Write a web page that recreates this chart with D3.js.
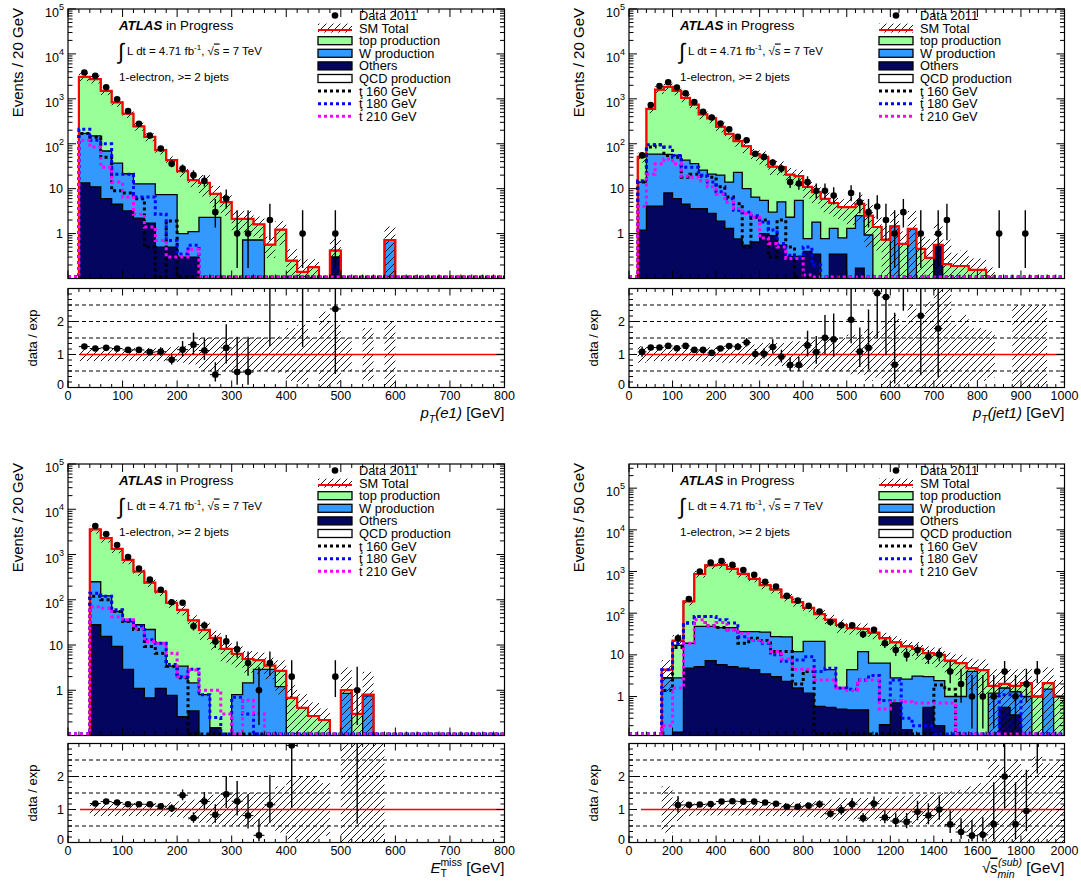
<!DOCTYPE html>
<html>
<head>
<meta charset="utf-8">
<script src="https://cdnjs.cloudflare.com/ajax/libs/d3/7.8.5/d3.min.js"></script>
<style>
html,body{margin:0;padding:0;background:#fff;}
svg{display:block;}
text{font-family:"Liberation Sans",Arial,Helvetica,sans-serif;fill:#000;}
</style>
</head>
<body>
<svg id="chart" width="1081" height="881"></svg>
<script>
// ================= DATA =================
const legendLabels = ["Data 2011","SM Total","top production","W production","Others","QCD production","ţ 160 GeV","ţ 180 GeV","t 210 GeV"];

// ---- pT(e1): bins of 20 GeV starting at 20 GeV ----
const ptE_start = 20, ptE_width = 20;
const ptE_others = [13.4, 11, 6, 4.5, 3.2, 2.2, 1.7, 0.5, 0.5, 0.3, 0.3, 0, 0, 0, 0, 0, 0, 0, 0, 0, 0, 0, 0, 0.3, 0, 0, 0, 0, 0];
const ptE_W      = [156, 138, 63, 32.5, 18.3, 10.6, 11.1, 6.9, 6.9, 0.7, 0.8, 2.3, 2.3, 0, 0, 0.72, 0.72, 0, 0, 0, 0, 0, 0, 0, 0, 0, 0, 0, 0.72];
const ptE_top    = [2930, 2600, 1440, 793, 449, 232, 129, 64.6, 35.6, 23.4, 14.3, 11.1, 5.4, 5.0, 2.14, 1.42, 0.88, 0.57, 1.22, 0.25, 0.14, 0.18, 0, 0.12, 0, 0, 0, 0, 0];
const ptE_data   = [3844, 3245, 1812, 979, 536, 279, 152, 78, 36, 28, 20, 15, 3, 6, 1, 1, 0, 2, 0, 0, 1, 0, 0, 1, 0, 0, 0, 0, 0];
const ptE_unc    = [0.2,0.2,0.2,0.2,0.2,0.2,0.2,0.2,0.22,0.25,0.3,0.5,0.5,0.5,0.5,0.5,0.5,0.5,0.55,0.8,0.9,0.5,1.3,0.9,0.5,0,0.8,0,1.0];
const ptE_t160   = [170, 140, 50, 9, 8, 6, 0.5, 0, 1.9];
const ptE_t180   = [210, 120, 100, 21, 21, 6.5, 6.5, 2.7, 0.7, 0.35, 0.55];
const ptE_t210   = [120, 85, 30, 14, 6.5, 2.7, 1.4, 0.7, 0.3, 0.3, 0.45];

// ---- pT(jet1): bins of 20 GeV starting at 20 GeV ----
const ptJ_start = 20, ptJ_width = 20;
const ptJ_others = [1.2, 4.1, 4.1, 8, 6, 4.5, 3.6, 3.6, 2.8, 1.9, 1.3, 0.76, 0.55, 0.65, 1.0, 0.9, 0.55, 0.31, 0.31, 0.4, 0.35, 0.1, 0.35, 0.35, 0, 0.17, 0, 0, 0, 0, 0, 0, 0, 0, 0.56];
const ptJ_W      = [12.8, 54.9, 54.9, 50, 50, 38.5, 32.4, 22.4, 18.2, 18.1, 12.7, 22.2, 9.45, 5.85, 4.5, 2.1, 4.55, 2.0, 5.2, 0.37, 1.45, 0.67, 0.95, 0.45, 1.3, 2.33, 0.93, 0, 0, 1.45, 0, 1.28];
const ptJ_top    = [37, 541, 1541, 1792, 1444, 1007, 709, 424, 346, 219, 153, 92, 78, 52.5, 44.5, 28, 24.9, 18.3, 13.5, 10.2, 6.6, 5.2, 3.5, 3.1, 2.6, 2.1, 1.57, 1.4, 0.73, 0, 0.59, 0, 0.46, 0.29, 0, 0.21, 0.19, 0.19, 0.155, 0.155, 0.104];
const ptJ_data   = [55, 726, 1936, 2331, 1785, 1323, 849, 513, 385, 282, 210, 142, 120, 60, 51, 38, 28, 14, 13, 14, 9, 9, 7, 0, 8, 5, 3, 4, 2, 1, 3, 0, 1, 0, 1, 2, 0, 0, 0, 0, 0, 1, 0, 0, 1, 0, 0];
const ptJ_unc    = [0.25,0.2,0.2,0.2,0.2,0.2,0.2,0.22,0.22,0.25,0.25,0.25,0.3,0.3,0.35,0.35,0.35,0.4,0.4,0.45,0.45,0.5,0.5,0.5,0.6,0.6,0.8,0.7,1.0,1.2,0.9,1.5,1.0,1.6,2.0,2.5,0.9,1.2,0.8,0.8,0.7,0,0,1.5,1.5,1.5,1.5];
const ptJ_t160   = [14, 85, 95, 55, 50, 18, 21, 19, 18, 11, 6.5, 4.6, 0.5, 2.3, 2.0, 0.3, 2.0, 0.5];
const ptJ_t180   = [15, 95, 95, 85, 55, 30, 30, 20, 14, 8.5, 6, 3.3, 3, 2.5, 1.8, 1.2, 0.6, 0.33, 0.3, 0.5, 0.2];
const ptJ_t210   = [4, 21, 36, 46, 36, 19, 18, 15, 11, 7.5, 5, 3.6, 2.8, 2.3, 0.8, 0.6, 0.5, 0.28, 0.28, 0.12];

// ---- ETmiss: bins of 20 GeV starting at 40 GeV ----
const met_start = 40, met_width = 20;
const met_others = [28, 15.5, 9.3, 2.9, 1.1, 0.68, 1.1, 0.77, 0.26, 0.35, 0, 0.15];
const met_W      = [222, 106.5, 45.7, 30.1, 26.9, 21.3, 9.9, 2.63, 3.14, 1.1, 0.8, 0, 0, 0.8, 1.45, 2.9, 2.9, 1.2, 0, 0, 0, 0, 0, 0.85, 0, 0.75];
const met_top    = [3350, 2168, 1278, 727, 393, 218, 140, 81.6, 56.6, 33.5, 20.9, 14.15, 8.2, 5.6, 3.45, 1.7, 0.6, 1.5, 0.68, 0.41, 0.27, 0.22, 0, 0.15, 0.3, 0.05];
const met_data   = [4250, 2840, 1613, 882, 488, 278, 166, 88, 86, 26, 27, 12, 12, 8, 4, 1, 4, 0, 2, 0, 0, 0, 2, 0, 1, 0, 0];
const met_unc    = [0.2,0.2,0.2,0.2,0.2,0.2,0.2,0.22,0.25,0.3,0.4,0.45,0.5,0.5,0.5,0.5,0.5,0.7,0.9,1.0,1.0,0.8,0,2.2,2.5,2.2,2.5];
const met_t160   = [120, 100, 55, 33, 22, 9.3, 6.6, 3.4, 1.9];
const met_t180   = [140, 120, 60, 36, 26, 13, 11, 3.7, 2, 2.9, 0.8, 0.25, 0, 0.7, 0.3];
const met_t210   = [70, 65, 42, 36, 23, 12, 11, 6.6, 2.0, 2.8, 1.0, 1.0, 0.3, 0, 0.6, 0.3];

// ---- sqrt(s)_min^(sub): bins of 50 GeV starting at 150 GeV ----
const smin_start = 150, smin_width = 50;
const smin_qcd    = [1.6, 5];
const smin_others = [0, 0.14, 4.8, 5.2, 7.3, 5.8, 5.2, 4.8, 4.4, 3.5, 3.0, 2.3, 1.6, 1.2, 0.58, 0.55, 0.5, 0.48, 0.48, 0, 0.21, 0.7, 0.16, 0, 0.55, 0.2, 0, 0, 0, 0, 0, 0.55, 0.36];
const smin_W      = [2.8, 2.66, 14.2, 42.8, 40.7, 39.2, 39.8, 31.2, 31.6, 31.5, 24.5, 24.7, 10.4, 19.8, 20.4, 3.85, 1.1, 3.92, 11.5, 6.3, 6.1, 2.1, 2.44, 3.1, 2.45, 2.2, 1.0, 1.0, 4.0, 0, 1.2, 1.05, 0.94, 1.0, 0, 1.5, 0];
const smin_top    = [0, 14.2, 172, 822, 1352, 1395, 1105, 844, 634, 435, 342.5, 213, 173, 114, 74, 65.6, 50.4, 39.6, 30, 27.7, 18.7, 17.2, 13.4, 10.9, 8.0, 7.6, 6.3, 5.3, 0.8, 4.3, 0.6, 0.4, 0.5, 1.1, 1.0, 0.6, 1.0];
const smin_data   = [0, 25, 218, 1000, 1630, 1790, 1440, 1090, 830, 570, 435, 260, 200, 150, 110, 61, 51, 51, 31, 40, 19, 13, 10, 13, 9, 10, 4, 2, 1, 1, 1, 4, 1, 2, 4, 0, 0];
const smin_unc    = [0.7,0.35,0.2,0.18,0.18,0.18,0.18,0.18,0.18,0.2,0.2,0.2,0.22,0.22,0.25,0.3,0.35,0.3,0.35,0.3,0.35,0.4,0.4,0.45,0.45,0.5,0.55,0.6,0.7,0.8,1.5,1.3,1.5,1.2,1.6,1.4,1.5];
const smin_t160   = [1.4, 15, 58, 83, 50, 45, 40, 19, 25, 22, 12, 12, 2, 4, 0, 0, 0, 0, 0, 0, 0, 0, 0, 0, 0, 1.9, 1.5];
const smin_t180   = [4.4, 19, 58, 83, 83, 70, 58, 27, 22, 19, 10, 7, 7.5, 9, 4, 4.8, 1.6, 1.5, 2.5, 3.2, 0.8, 2.5, 0.3, 0.2, 0.2, 0, 0, 0, 0, 0, 0, 1.1, 1.1];
const smin_t210   = [0.2, 1.6, 19, 70, 50, 60, 40, 33, 22, 20, 12, 8, 4.5, 4.5, 2.5, 2.5, 1.6, 1.4, 2.5, 2.5, 0.5, 0.8, 0.75, 0.7, 0.7, 0.7, 0.7];

// ================= STYLE / LAYOUT =================
const C_TOP = '#99ff99', C_W = '#3399ff', C_OTH = '#03055f', C_RED = '#ff0000';
const SIG_COLORS = ['#000000', '#0000ff', '#ff00ff'];

const layout = [
  {x0:68,  x1:504.5,  yT:9,   yB:278.5, rT:288.5, rB:387.5},
  {x0:629, x1:1064.5, yT:9,   yB:278.5, rT:288.5, rB:387.5},
  {x0:68,  x1:504.5,  yT:464, yB:735.5, rT:743.5, rB:842.5},
  {x0:629, x1:1064.5, yT:464, yB:735.5, rT:743.5, rB:842.5}
];

const panels = [
  {id:'a', box:layout[0], start:ptE_start, width:ptE_width, others:ptE_others, W:ptE_W, top:ptE_top, qcd:null, data:ptE_data, unc:ptE_unc, sig:[ptE_t160,ptE_t180,ptE_t210], xmax:800, xMajor:100, xMinor:20, yDom:[0.1,1e5], yTitle:'Events / 20 GeV', xTitle:'pte'},
  {id:'b', box:layout[1], start:ptJ_start, width:ptJ_width, others:ptJ_others, W:ptJ_W, top:ptJ_top, qcd:null, data:ptJ_data, unc:ptJ_unc, sig:[ptJ_t160,ptJ_t180,ptJ_t210], xmax:1000, xMajor:100, xMinor:20, yDom:[0.1,1e5], yTitle:'Events / 20 GeV', xTitle:'ptj'},
  {id:'c', box:layout[2], start:met_start, width:met_width, others:met_others, W:met_W, top:met_top, qcd:null, data:met_data, unc:met_unc, sig:[met_t160,met_t180,met_t210], xmax:800, xMajor:100, xMinor:20, yDom:[0.1,1e5], yTitle:'Events / 20 GeV', xTitle:'met'},
  {id:'d', box:layout[3], start:smin_start, width:smin_width, others:smin_others, W:smin_W, top:smin_top, qcd:smin_qcd, data:smin_data, unc:smin_unc, sig:[smin_t160,smin_t180,smin_t210], xmax:2000, xMajor:200, xMinor:40, yDom:[0.116,3.8e5], yTitle:'Events / 50 GeV', xTitle:'smin'}
];

// ================= DRAWING =================
const svg = d3.select('#chart');
svg.append('rect').attr('width',1081).attr('height',881).attr('fill','#fff');
const defs = svg.append('defs');
const hs = 7;
defs.append('pattern').attr('id','hatch').attr('patternUnits','userSpaceOnUse')
  .attr('width',hs).attr('height',hs)
  .append('path')
  .attr('d',`M0,${hs} L${hs},0 M${-hs/2},${hs/2} L${hs/2},${-hs/2} M${hs/2},${hs*1.5} L${hs*1.5},${hs/2}`)
  .attr('stroke','#000').attr('stroke-width',0.9).attr('fill','none');

function garwood(N){
  const lo = N <= 0 ? 0 : N*Math.pow(1 - 1/(9*N) - 1/(3*Math.sqrt(N)), 3);
  const hi = (N+1)*Math.pow(1 - 1/(9*(N+1)) + 1/(3*Math.sqrt(N+1)), 3);
  return [lo, hi];
}

function line(g, x1, y1, x2, y2, stroke, w, dash){
  const l = g.append('line').attr('x1',x1).attr('y1',y1).attr('x2',x2).attr('y2',y2)
    .attr('stroke',stroke||'#000').attr('stroke-width',w||1);
  if (dash) l.attr('stroke-dasharray',dash);
  return l;
}

function drawPanel(P){
  const b = P.box;
  const g = svg.append('g');
  const x = d3.scaleLinear().domain([0,P.xmax]).range([b.x0,b.x1]);
  const y = d3.scaleLog().domain(P.yDom).range([b.yB,b.yT]);
  const yr = d3.scaleLinear().domain([0,3]).range([b.rB,b.rT]);
  const nb = Math.round((P.xmax - P.start)/P.width);
  const n = Math.max(P.top.length, P.W.length, P.others.length, P.data.length, P.unc.length);
  const v = (a,i) => (a && a[i] != null) ? a[i] : 0;
  const lo = i => P.start + i*P.width;
  const idx = d3.range(n);
  const c1 = idx.map(i => v(P.others,i));
  const c2 = idx.map(i => c1[i] + v(P.W,i));
  const c3 = idx.map(i => c2[i] + v(P.top,i));
  const c4 = idx.map(i => c3[i] + v(P.qcd,i));
  const ymin = P.yDom[0];
  const yBelow = b.yB + 4;
  const yOf = val => val > ymin ? y(val) : yBelow;
  const step = vals => {
    let d = `M${x(lo(0))},${yBelow}`;
    vals.forEach((val,i) => { const yy = yOf(val); d += `L${x(lo(i))},${yy}L${x(lo(i+1))},${yy}`; });
    d += `L${x(lo(vals.length))},${yBelow}`;
    return d;
  };

  // clip paths
  defs.append('clipPath').attr('id','cm'+P.id).append('rect')
    .attr('x',b.x0).attr('y',b.yT).attr('width',b.x1-b.x0).attr('height',b.yB-b.yT);
  defs.append('clipPath').attr('id','cr'+P.id).append('rect')
    .attr('x',b.x0).attr('y',b.rT).attr('width',b.x1-b.x0).attr('height',b.rB-b.rT);

  // ---------- main pad ----------
  const gm = g.append('g').attr('clip-path',`url(#cm${P.id})`);
  const layers = [];
  if (P.qcd) layers.push([c4,'#ffffff']);
  layers.push([c3,C_TOP],[c2,C_W],[c1,C_OTH]);
  layers.forEach(([c,col]) => gm.append('path').attr('d',step(c)+'Z').attr('fill',col));
  layers.forEach(([c]) => gm.append('path').attr('d',step(c)).attr('fill','none').attr('stroke','#000').attr('stroke-width',1.3));

  // uncertainty band
  idx.forEach(i => {
    const s = c4[i], u = v(P.unc,i);
    if (s > 0 && u > 0){
      const hi = s*(1+u), lw = Math.max(s*(1-u), ymin*0.3);
      gm.append('rect').attr('x',x(lo(i))).attr('width',x(lo(i+1))-x(lo(i)))
        .attr('y',y(hi)).attr('height',y(lw)-y(hi)).attr('fill','url(#hatch)');
    }
  });

  // SM total
  gm.append('path').attr('d',step(c4)).attr('fill','none').attr('stroke',C_RED).attr('stroke-width',2.2);

  // signals
  const ySig0 = b.yB - 1.5;
  P.sig.forEach((arr,k) => {
    let d = `M${x(0)},${ySig0}L${x(lo(0))},${ySig0}`;
    for (let i=0;i<nb;i++){
      const val = v(arr,i);
      const yy = val > ymin ? y(val) : ySig0;
      d += `L${x(lo(i))},${yy}L${x(lo(i+1))},${yy}`;
    }
    d += `L${x(P.xmax)},${ySig0}`;
    gm.append('path').attr('d',d).attr('fill','none').attr('stroke',SIG_COLORS[k])
      .attr('stroke-width',3).attr('stroke-dasharray','3,3');
  });

  // data
  idx.forEach(i => {
    const N = v(P.data,i); if (!N) return;
    const [el,eh] = garwood(N);
    const cx = x(lo(i)+P.width/2);
    line(gm, cx, y(Math.max(el, ymin*0.3)), cx, y(eh), '#000', 1.4);
    gm.append('circle').attr('cx',cx).attr('cy',y(N)).attr('r',3.3).attr('fill','#000');
  });

  // ---------- ratio pad ----------
  const gr = g.append('g').attr('clip-path',`url(#cr${P.id})`);
  idx.forEach(i => {
    const u = v(P.unc,i); if (!(u > 0)) return;
    const top = yr(Math.min(1+u,3.5)), bot = yr(Math.max(1-u,-0.5));
    gr.append('rect').attr('x',x(lo(i))).attr('width',x(lo(i+1))-x(lo(i)))
      .attr('y',top).attr('height',bot-top).attr('fill','url(#hatch)');
  });
  [0.5,1.5,2,2.5].forEach(r => line(gr, b.x0, yr(r), b.x1, yr(r), '#000', 1, '4,3'));
  line(gr, b.x0+12, yr(1), b.x1, yr(1), C_RED, 1.6);
  idx.forEach(i => {
    const N = v(P.data,i), s = c4[i];
    if (!N || !(s > 0)) return;
    const r = N/s, [el,eh] = garwood(N);
    const cx = x(lo(i)+P.width/2);
    line(gr, cx, yr(el/s), cx, yr(Math.min(eh/s,4)), '#000', 1.4);
    if (r <= 3){
      line(gr, x(lo(i)), yr(r), x(lo(i+1)), yr(r), '#000', 1);
      gr.append('circle').attr('cx',cx).attr('cy',yr(r)).attr('r',3.3).attr('fill','#000');
    }
  });

  // ---------- frames & ticks ----------
  const ga = g.append('g');
  ga.append('rect').attr('x',b.x0).attr('y',b.yT).attr('width',b.x1-b.x0).attr('height',b.yB-b.yT)
    .attr('fill','none').attr('stroke','#000').attr('stroke-width',1.2);
  ga.append('rect').attr('x',b.x0).attr('y',b.rT).attr('width',b.x1-b.x0).attr('height',b.rB-b.rT)
    .attr('fill','none').attr('stroke','#000').attr('stroke-width',1.2);

  // x ticks (main + ratio, top and bottom)
  const nMinor = Math.round(P.xmax/P.xMinor);
  for (let k=0;k<=nMinor;k++){
    const val = k*P.xMinor;
    const maj = Math.abs(val/P.xMajor - Math.round(val/P.xMajor)) < 1e-6;
    const xx = x(val);
    const Lm = maj ? 8 : 4, Lr = maj ? 7 : 3.5;
    line(ga, xx, b.yB, xx, b.yB-Lm);
    line(ga, xx, b.yT, xx, b.yT+Lm);
    line(ga, xx, b.rB, xx, b.rB-Lr);
    line(ga, xx, b.rT, xx, b.rT+Lr);
  }
  // x labels
  for (let val=0; val<=P.xmax+1e-9; val+=P.xMajor){
    ga.append('text').attr('x',x(val)).attr('y',b.rB+12).attr('text-anchor','middle')
      .attr('font-size',12.5).text(String(val));
  }

  // log y ticks
  const dLo = Math.floor(Math.log10(P.yDom[0])), dHi = Math.ceil(Math.log10(P.yDom[1]));
  for (let d=dLo; d<=dHi; d++){
    for (let m=1;m<=9;m++){
      const val = m*Math.pow(10,d);
      if (val < P.yDom[0]*0.999 || val > P.yDom[1]*1.001) continue;
      const yy = y(val), L = m===1 ? 8 : 4.5;
      line(ga, b.x0, yy, b.x0+L, yy);
      line(ga, b.x1, yy, b.x1-L, yy);
    }
    const val = Math.pow(10,d);
    if (d < 0 || val > P.yDom[1]*1.001 || val < P.yDom[0]) continue;
    const yy = y(val);
    if (d === 0 || d === 1){
      ga.append('text').attr('x',b.x0-5).attr('y',yy+4.5).attr('text-anchor','end')
        .attr('font-size',12.5).text(d===0?'1':'10');
    } else {
      const t = ga.append('text').attr('x',b.x0-4).attr('y',yy+8).attr('text-anchor','end').attr('font-size',12.5);
      t.append('tspan').text('10');
      t.append('tspan').attr('font-size',9).attr('dy',-7).text(String(d));
    }
  }

  // ratio y ticks
  for (let k=0;k<=18;k++){
    const val = k/6, yy = yr(val);
    const maj = k%6===0, L = maj ? 8 : 4;
    line(ga, b.x0, yy, b.x0+L, yy);
    line(ga, b.x1, yy, b.x1-L, yy);
  }
  [0,1,2].forEach(r => ga.append('text').attr('x',b.x0-4).attr('y',yr(r)+4.5 - (r===0?3:0))
      .attr('text-anchor','end').attr('font-size',12.5).text(String(r)));

  // axis titles
  ga.append('text').attr('transform',`translate(${b.x0-45},${b.yT-1}) rotate(-90)`)
    .attr('text-anchor','end').attr('font-size',15).text(P.yTitle);
  ga.append('text').attr('transform',`translate(${b.x0-31},${(b.rT+b.rB)/2}) rotate(-90)`)
    .attr('text-anchor','middle').attr('font-size',13).text('data / exp');

  const xt = ga.append('text').attr('x',0).attr('y',b.rB+30).attr('font-size',15);
  if (P.xTitle === 'pte' || P.xTitle === 'ptj'){
    xt.append('tspan').attr('font-style','italic').text('p');
    xt.append('tspan').attr('font-style','italic').attr('font-size',10.5).attr('dy',5).text('T');
    xt.append('tspan').attr('font-style','italic').attr('dy',-5).text(P.xTitle==='pte' ? '(e1)' : '(jet1)');
    xt.append('tspan').text(' [GeV]');
  } else if (P.xTitle === 'met'){
    xt.append('tspan').attr('font-style','italic').text('E');
    xt.append('tspan').attr('font-size',10.5).attr('dy',4).text('T');
    xt.append('tspan').attr('font-size',10.5).attr('dx',-6.5).attr('dy',-11).text('miss');
    xt.append('tspan').attr('dy',7).text(' [GeV]');
  } else {
    xt.append('tspan').text('√');
    xt.append('tspan').attr('font-style','italic').attr('text-decoration','overline').text('s');
    xt.append('tspan').attr('font-style','italic').attr('font-size',10.5).attr('dy',5).text('min');
    xt.append('tspan').attr('font-style','italic').attr('font-size',10.5).attr('dx',-16.5).attr('dy',-12).text('(sub)');
    xt.append('tspan').attr('dy',7).text(' [GeV]');
  }
  const bb = xt.node().getBBox();
  xt.attr('x', b.x1 - (bb.x + bb.width));

  // ---------- labels inside ----------
  const tx = b.x0 + 51;
  const at = ga.append('text').attr('x',tx).attr('y',b.yT+20.5).attr('font-size',13.3);
  at.append('tspan').attr('font-weight','bold').attr('font-style','italic').text('ATLAS');
  at.append('tspan').text(' in Progress');
  ga.append('text').attr('x',tx-1).attr('y',b.yT+50).attr('font-size',22).text('∫');
  const lt = ga.append('text').attr('x',tx+8).attr('y',b.yT+45.5).attr('font-size',11.5);
  lt.append('tspan').text('L dt = 4.71 fb');
  lt.append('tspan').attr('font-size',8).attr('dy',-5).text('-1');
  lt.append('tspan').attr('dy',5).text(', √');
  lt.append('tspan').attr('text-decoration','overline').text('s');
  lt.append('tspan').text(' = 7 TeV');
  ga.append('text').attr('x',tx).attr('y',b.yT+71.5).attr('font-size',11.7).text('1-electron, >= 2 bjets');

  // ---------- legend ----------
  const lx = b.x0 + 250, lw = 34, ltx = b.x0 + 291;
  const ry = k => b.yT + 6.5 + k*12.6;
  legendLabels.forEach((lab,k) => {
    const yy = ry(k);
    if (k === 0){
      ga.append('circle').attr('cx',lx+lw/2).attr('cy',yy).attr('r',3.3).attr('fill','#000');
    } else if (k === 1){
      ga.append('rect').attr('x',lx).attr('y',yy-4.5).attr('width',lw).attr('height',9).attr('fill','url(#hatch)');
      line(ga, lx, yy+2, lx+lw, yy+2, C_RED, 2);
    } else if (k <= 5){
      const col = [C_TOP, C_W, C_OTH, '#ffffff'][k-2];
      ga.append('rect').attr('x',lx).attr('y',yy-4).attr('width',lw).attr('height',8)
        .attr('fill',col).attr('stroke','#000').attr('stroke-width',1.3);
    } else {
      line(ga, lx, yy, lx+lw, yy, SIG_COLORS[k-6], 3, '3,3');
    }
    ga.append('text').attr('x',ltx).attr('y',yy+4.4).attr('font-size',12.8).text(lab);
  });
}

panels.forEach(drawPanel);
</script>
</body>
</html>
